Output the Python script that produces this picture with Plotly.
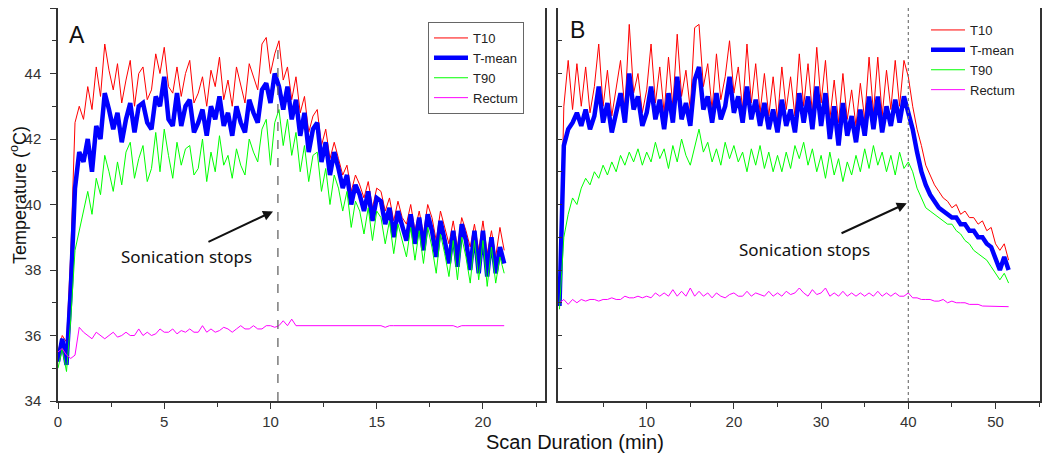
import plotly.graph_objects as go

# ---------------- Panel A data (time step 0.2 min) ----------------
time_a = [round(i * 0.2, 1) for i in range(106)]

t10_a = [35.5, 36.0, 35.8, 38.5, 42.5, 43.0, 42.6, 43.6, 42.9, 44.2,
         43.3, 44.9, 44.1, 43.5, 44.3, 43.1, 43.8, 44.4, 43.0, 44.0,
         44.2, 43.2, 43.5, 44.6, 44.0, 44.8, 43.6, 43.4, 44.2, 43.3,
         44.0, 44.4, 43.1, 43.4, 43.9, 43.0, 44.1, 43.6, 44.5, 43.2,
         43.8, 43.0, 44.2, 43.6, 43.1, 44.3, 43.9, 43.5, 44.9, 45.1,
         44.0, 44.6, 45.0, 43.8, 44.2, 43.2, 43.9, 42.8, 43.3, 42.2,
         42.7, 42.9, 41.8, 42.3, 41.4, 41.9, 41.4, 40.9, 41.2, 40.4,
         40.9, 40.6, 40.2, 40.7, 39.9, 40.5, 40.4, 39.8, 40.2, 39.5,
         40.1, 39.6, 39.4, 40.0, 39.2, 39.8, 39.1, 40.0, 39.6, 38.9,
         39.8, 39.3, 38.8, 39.5, 38.7, 39.6, 39.2, 38.7, 39.4, 38.6,
         39.5, 38.5, 39.2, 38.4, 39.3, 38.6]

tmean_a = [35.2, 35.9, 35.1, 37.4, 40.5, 41.6, 41.3, 42.0, 41.0, 42.4,
           42.0, 43.4, 42.9, 42.3, 42.8, 41.9, 42.6, 43.1, 42.2, 43.0,
           43.1, 42.5, 42.3, 43.3, 43.0, 43.9, 42.6, 42.4, 43.4, 42.4,
           43.0, 43.2, 42.2, 42.5, 42.9, 42.1, 43.0, 42.6, 43.3, 42.4,
           42.8, 42.1, 43.0, 42.5, 42.2, 43.2, 42.8, 42.5, 43.5, 43.7,
           43.1, 44.0, 43.6, 42.9, 43.6, 42.6, 43.2, 42.1, 42.8, 41.6,
           42.3, 42.5, 41.3, 41.9, 40.9, 41.6, 41.1, 40.5, 40.9, 40.0,
           40.6, 40.3, 39.8, 40.4, 39.5, 40.2, 40.1, 39.4, 39.9, 39.0,
           39.8, 39.3, 38.9, 39.7, 38.8, 39.6, 38.6, 39.7, 39.2, 38.4,
           39.5, 38.9, 38.2, 39.2, 38.1, 39.4, 38.9, 38.0, 39.2, 37.9,
           39.2, 37.8, 39.0, 37.9, 38.7, 38.2]

t90_a = [35.0, 35.6, 34.9, 36.5, 38.6, 39.2, 39.9, 40.4, 39.7, 40.8,
         40.3, 41.5, 41.0, 40.4, 41.3, 40.6, 41.6, 41.9, 40.8, 41.4,
         41.8, 40.7, 41.1, 42.2, 41.0, 42.3, 41.5, 40.8, 41.9, 41.2,
         41.7, 41.8, 40.9, 41.1, 42.0, 40.7, 41.6, 41.0, 42.1, 41.2,
         41.5, 40.8, 41.7, 41.2, 40.9, 42.0, 41.6, 41.3, 42.3, 42.6,
         41.2, 42.5, 42.9, 41.8, 42.6, 41.5, 42.2, 41.0, 41.8, 40.7,
         41.5, 41.6, 40.4, 41.1, 40.0, 40.9, 40.5, 39.8, 40.4, 39.3,
         40.1, 39.8, 39.1, 39.9, 38.9, 39.8, 39.6, 38.8, 39.5, 38.5,
         39.4, 38.9, 38.4, 39.3, 38.3, 39.2, 38.2, 39.3, 38.7, 37.9,
         39.1, 38.5, 37.8, 38.9, 37.7, 39.0, 38.4, 37.6, 38.9, 37.7,
         38.9, 37.5, 38.7, 37.6, 38.4, 37.9]

rectum_a = [35.5, 35.6, 35.4, 35.3, 35.4, 36.25, 36.1, 36.0, 35.9, 36.1,
            36.0, 35.9, 36.0, 36.1, 35.95, 36.0, 36.1, 36.0, 36.0, 36.2,
            36.0, 36.1, 36.0, 36.05, 36.2, 36.1, 36.1, 36.2, 36.05, 36.15,
            36.1, 36.2, 36.1, 36.1, 36.3, 36.1, 36.2, 36.1, 36.15, 36.25,
            36.2, 36.1, 36.2, 36.3, 36.2, 36.2, 36.3, 36.2, 36.2, 36.3,
            36.3, 36.25, 36.3, 36.45, 36.3, 36.5, 36.3, 36.3, 36.3, 36.3,
            36.3, 36.3, 36.3, 36.3, 36.3, 36.3, 36.3, 36.3, 36.3, 36.3,
            36.3, 36.3, 36.3, 36.3, 36.3, 36.3, 36.3, 36.25, 36.3, 36.3,
            36.3, 36.3, 36.3, 36.3, 36.3, 36.3, 36.3, 36.3, 36.3, 36.3,
            36.3, 36.3, 36.3, 36.3, 36.25, 36.3, 36.3, 36.3, 36.3, 36.3,
            36.3, 36.3, 36.3, 36.3, 36.3, 36.3]

# ---------------- Panel B data (time step 0.5 min) ----------------
time_b = [round(i * 0.5, 1) for i in range(104)]

t10_b = [37.0, 43.0, 44.4, 42.9, 44.3, 43.0, 44.2, 42.8, 43.6, 44.9,
         43.0, 44.1, 42.7, 43.5, 44.4, 42.9, 45.5, 43.4, 44.0, 42.8,
         43.5, 44.9, 43.1, 44.2, 42.8, 44.5, 43.0, 45.2, 43.3, 44.1,
         42.9, 45.4, 45.5, 43.6, 44.3, 42.9, 44.6, 43.2, 43.9, 45.0,
         43.4, 44.2, 42.9, 44.9, 43.1, 44.3, 42.8, 44.0, 42.7, 43.9,
         42.6, 44.2, 42.9, 43.9, 42.7, 44.6, 43.0, 44.3, 42.8, 44.8,
         43.1, 44.4, 42.6, 43.8, 42.5, 44.0, 42.6, 43.5, 42.4, 43.7,
         42.6, 44.5, 42.8, 44.5, 42.7, 44.1, 42.9, 44.4, 43.0, 44.4,
         43.9, 43.0, 42.3, 41.8, 41.2, 40.9, 40.6, 40.4, 40.2, 40.1,
         39.9, 40.0, 39.7, 39.8, 39.6, 39.6, 39.4, 39.5, 39.2, 39.3,
         38.8, 38.6, 38.8, 38.3]

tmean_b = [36.9, 41.8, 42.3, 42.5, 42.8, 42.4, 42.9, 42.3, 42.7, 43.6,
           42.5, 43.1, 42.2, 42.8, 43.4, 42.5, 44.0, 42.9, 43.3, 42.4,
           42.8, 43.6, 42.6, 43.2, 42.3, 43.4, 42.5, 43.9, 42.6, 43.1,
           42.4, 43.8, 44.2, 42.9, 43.3, 42.5, 43.4, 42.6, 43.0, 43.9,
           42.8, 43.3, 42.5, 43.6, 42.6, 43.2, 42.4, 43.1, 42.3, 42.9,
           42.2, 43.2, 42.4, 42.9, 42.2, 43.4, 42.5, 43.3, 42.3, 43.6,
           42.4, 43.4, 42.0, 43.0, 41.8, 43.1, 42.1, 42.7, 41.9, 42.9,
           42.1, 43.3, 42.3, 43.3, 42.2, 43.0, 42.4, 43.2, 42.5, 43.3,
           42.8, 42.3, 41.6, 41.0, 40.6, 40.3, 40.1, 39.9, 39.8, 39.7,
           39.6, 39.6, 39.4, 39.4, 39.2, 39.2, 39.0, 39.0, 38.8, 38.7,
           38.3, 38.0, 38.4, 38.0]

t90_b = [36.8, 39.0, 39.7, 40.2, 40.0, 40.5, 40.8, 40.6, 41.0, 40.8,
         41.2, 40.9, 41.3, 41.0, 41.5, 41.2, 41.6, 41.3, 41.7, 41.2,
         41.6, 41.3, 41.9, 41.4, 41.7, 41.1, 41.8, 41.3, 42.0, 41.5,
         41.2, 41.8, 42.3, 41.6, 41.9, 41.3, 41.7, 41.2, 41.9, 41.4,
         41.8, 41.3, 41.6, 41.0, 41.7, 41.2, 41.8, 41.1, 41.6, 41.0,
         41.5, 41.0, 41.6, 41.1, 41.8, 41.4, 41.9, 41.2, 41.7, 41.0,
         41.5, 40.8, 41.6, 40.9, 41.4, 40.7, 41.3, 40.9, 41.5, 41.0,
         41.7, 41.1, 41.8, 41.2, 41.6, 41.0, 41.5, 40.9, 41.6, 41.1,
         41.3, 41.0, 40.5, 40.2, 39.9, 39.8, 39.7, 39.6, 39.5, 39.4,
         39.4, 39.2, 39.1, 38.9, 38.8, 38.6, 38.5, 38.4, 38.3, 38.1,
         37.9, 37.7, 37.9, 37.6]

rectum_b = [37.0, 37.1, 36.95, 37.1, 37.0, 37.1, 37.05, 37.1, 37.1, 37.05,
            37.1, 37.1, 37.15, 37.1, 37.1, 37.2, 37.15, 37.15, 37.2, 37.15,
            37.2, 37.15, 37.3, 37.2, 37.3, 37.2, 37.4, 37.2, 37.35, 37.2,
            37.45, 37.2, 37.35, 37.2, 37.3, 37.15, 37.3, 37.2, 37.15, 37.25,
            37.3, 37.2, 37.2, 37.35, 37.2, 37.3, 37.25, 37.2, 37.35, 37.2,
            37.3, 37.2, 37.35, 37.25, 37.3, 37.45, 37.3, 37.2, 37.4, 37.25,
            37.3, 37.45, 37.2, 37.3, 37.2, 37.35, 37.2, 37.3, 37.2, 37.3,
            37.2, 37.3, 37.2, 37.35, 37.2, 37.3, 37.2, 37.3, 37.2, 37.2,
            37.3, 37.15, 37.15, 37.1, 37.1, 37.1, 37.05, 37.05, 37.1, 37.0,
            37.05, 37.0, 37.0, 37.0, 36.95, 36.95, 36.95, 36.9, 36.9, 36.9,
            36.9, 36.9, 36.88, 36.88]

series_names = ["T10", "T-mean", "T90", "Rectum"]
series_colors = ["#FF0000", "#0000FF", "#00FF00", "#FF00FF"]
series_widths = [1, 4.5, 1, 1]

stop_a = 10.35
stop_b = 40.0

FONT = "Liberation Sans, Arial, sans-serif"
ANNOT_FONT = "Noto Sans, Open Sans, sans-serif"

fig = go.Figure()

for name, col, w, ys in zip(series_names, series_colors, series_widths,
                            [t10_a, tmean_a, t90_a, rectum_a]):
    fig.add_trace(go.Scatter(x=time_a, y=ys, mode="lines", name=name,
                             line=dict(color=col, width=w),
                             xaxis="x", yaxis="y", legend="legend"))

for name, col, w, ys in zip(series_names, series_colors, series_widths,
                            [t10_b, tmean_b, t90_b, rectum_b]):
    fig.add_trace(go.Scatter(x=time_b, y=ys, mode="lines", name=name,
                             line=dict(color=col, width=w),
                             xaxis="x2", yaxis="y2", legend="legend2"))

# the page body adds an 8 px offset, so the figure is 1042 x 447
W, H = 1042, 447
OFF = 8


def px(x):
    return (x - OFF) / W


def py(y):
    return (H - (y - OFF)) / H


ydom = [py(401), 1.0]
axis_line = dict(showline=True, linecolor="#333", linewidth=1.5, mirror=True,
                 showgrid=False, zeroline=False, automargin=False,
                 tickfont=dict(family=FONT, size=15, color="#333"))

fig.update_layout(
    width=W, height=H,
    margin=dict(l=0, r=0, t=0, b=0, autoexpand=False),
    paper_bgcolor="white", plot_bgcolor="white",
    font=dict(family=FONT, color="#222"),
    xaxis=dict(domain=[px(58), px(545)], range=[0, 22.92],
               tickvals=[0, 5, 10, 15, 20], ticks="outside", ticklen=6,
               tickcolor="#333",
               minor=dict(tickvals=[2.5, 7.5, 12.5, 17.5, 22.5], ticks="outside",
                          ticklen=4, tickcolor="#333"),
               anchor="y", **axis_line),
    yaxis=dict(domain=ydom, range=[34, 46], tickvals=[34, 36, 38, 40, 42, 44, 46],
               ticks="outside", ticklen=6, tickcolor="#333", ticklabelstandoff=6,
               minor=dict(dtick=1, ticks="outside", ticklen=4, tickcolor="#333"),
               anchor="x", **axis_line),
    xaxis2=dict(domain=[px(558), px(1040)], range=[-0.17, 55.1],
                tickvals=[10, 20, 30, 40, 50], ticks="outside", ticklen=6,
                tickcolor="#333",
                minor=dict(tickvals=[5, 15, 25, 35, 45, 55], ticks="outside",
                           ticklen=4, tickcolor="#333"),
                anchor="y2", **axis_line),
    yaxis2=dict(domain=ydom, range=[34, 46], dtick=1, ticks="inside", ticklen=4,
                tickcolor="#333", showticklabels=False, anchor="x2",
                **axis_line),
    legend=dict(x=px(524), xanchor="right", y=py(22), yanchor="top",
                bgcolor="white", bordercolor="#666", borderwidth=1,
                font=dict(family=FONT, size=13, color="#222"),
                tracegroupgap=0, itemwidth=34),
    legend2=dict(x=px(926), xanchor="left", y=py(15), yanchor="top",
                 bgcolor="rgba(255,255,255,0)", borderwidth=0,
                 font=dict(family=FONT, size=13, color="#222"),
                 tracegroupgap=0, itemwidth=34),
    showlegend=True,
)

# stop lines
fig.add_shape(type="line", xref="x", yref="y", x0=stop_a, x1=stop_a, y0=34, y1=44.9,
              line=dict(color="#666", width=1.3, dash="dash"))
fig.add_shape(type="line", xref="x2", yref="y2", x0=stop_b, x1=stop_b, y0=34, y1=46,
              line=dict(color="#777", width=1.2, dash="dot"))

# arrows + text
fig.add_annotation(xref="x", yref="y", x=10.12, y=39.79, ax=7.01, ay=38.84,
                   axref="x", ayref="y", text="", showarrow=True,
                   arrowhead=2, arrowsize=1, arrowwidth=2, arrowcolor="#111")
fig.add_annotation(xref="x", yref="y", x=6.07, y=38.41, text="Sonication stops",
                   xanchor="center", yanchor="middle", showarrow=False,
                   font=dict(family=ANNOT_FONT, size=17, color="#111"))
fig.add_annotation(xref="x2", yref="y2", x=39.82, y=40.04, ax=32.17, ay=39.10,
                   axref="x2", ayref="y2", text="", showarrow=True,
                   arrowhead=2, arrowsize=1, arrowwidth=2, arrowcolor="#111")
fig.add_annotation(xref="x2", yref="y2", x=28.15, y=38.62, text="Sonication stops",
                   xanchor="center", yanchor="middle", showarrow=False,
                   font=dict(family=ANNOT_FONT, size=17, color="#111"))

fig.add_annotation(xref="paper", yref="paper", x=px(77), y=py(35), text="A",
                   xanchor="center", yanchor="middle", showarrow=False,
                   font=dict(family=FONT, size=23, color="#111"))
fig.add_annotation(xref="paper", yref="paper", x=px(577), y=py(30), text="B",
                   xanchor="center", yanchor="middle", showarrow=False,
                   font=dict(family=FONT, size=23, color="#111"))

fig.add_annotation(xref="paper", yref="paper", x=px(575), y=0,
                   xanchor="center", yanchor="bottom",
                   text="Scan Duration (min)", showarrow=False,
                   font=dict(family=FONT, size=20, color="#111"))
fig.add_annotation(xref="paper", yref="paper", x=px(18), y=py(195),
                   xanchor="center", yanchor="middle",
                   text="Temperature (<sup>o</sup>C)", showarrow=False, textangle=-90,
                   font=dict(family=FONT, size=18, color="#111"))

fig.write_html("out.html")
